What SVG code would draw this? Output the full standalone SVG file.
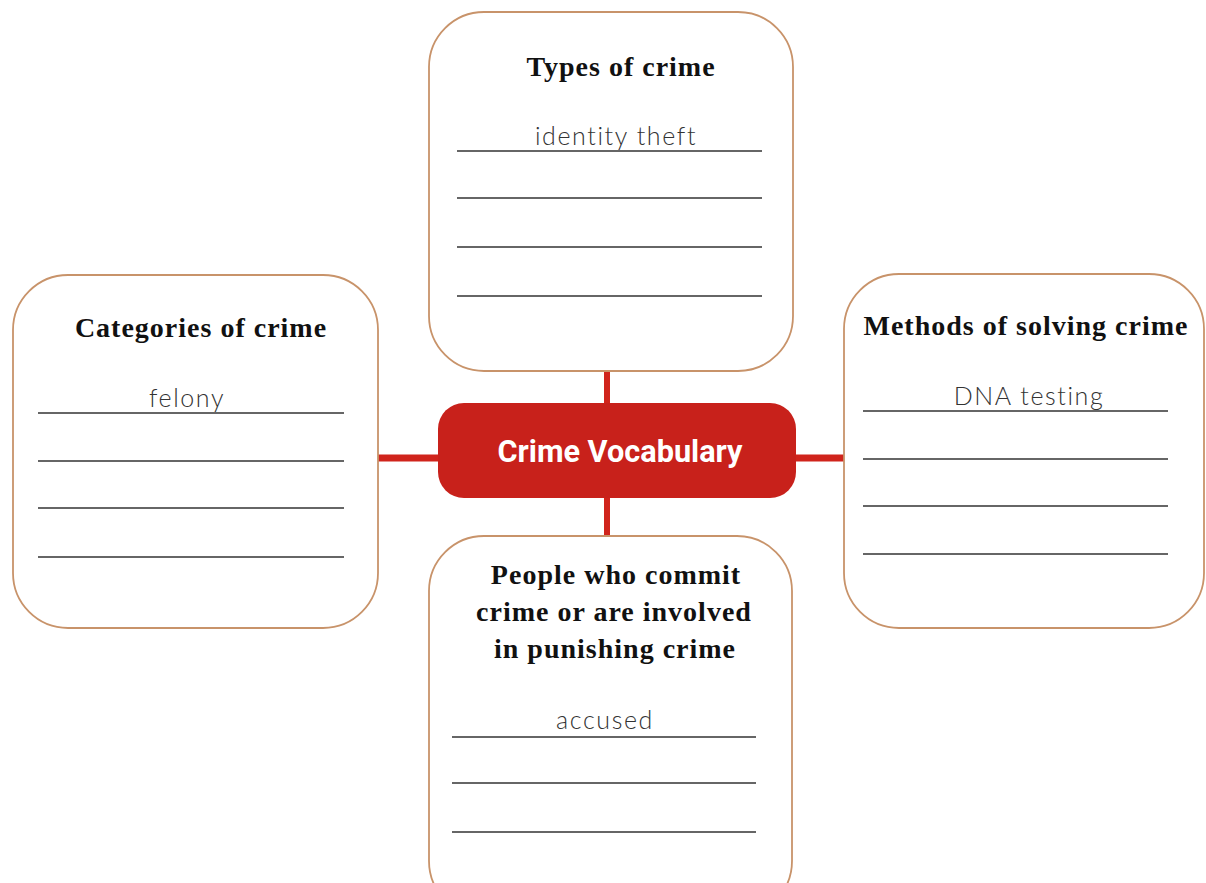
<svg xmlns="http://www.w3.org/2000/svg" width="1206" height="883" viewBox="0 0 1206 883">
<style>
.box{fill:#fff;stroke:#c8936a;stroke-width:1.8}
.rule{stroke:#333;stroke-width:1.6}
.head{font-family:"Liberation Serif",serif;font-weight:bold;font-size:28px;letter-spacing:1px;fill:#111;text-anchor:middle}
.hand{font-family:"Lato","Open Sans",sans-serif;font-weight:300;font-size:25px;letter-spacing:1.6px;fill:#333;text-anchor:middle}
.conn{stroke:#d0241c;fill:none}
</style>
<rect width="1206" height="883" fill="#fff"/>
<g id="connectors">
<line class="conn" x1="378" y1="458" x2="440" y2="458" stroke-width="7"/>
<line class="conn" x1="794" y1="458" x2="845" y2="458" stroke-width="7"/>
<line class="conn" x1="607" y1="370" x2="607" y2="405" stroke-width="6"/>
<line class="conn" x1="607" y1="496" x2="607" y2="537" stroke-width="6"/>
</g>
<g id="types">
<rect class="box" x="429" y="12" width="364" height="359" rx="55"/>
<text class="head" x="621" y="76">Types of crime</text>
<line class="rule" x1="457" y1="151" x2="762" y2="151"/>
<line class="rule" x1="457" y1="198" x2="762" y2="198"/>
<line class="rule" x1="457" y1="247" x2="762" y2="247"/>
<line class="rule" x1="457" y1="296" x2="762" y2="296"/>
<text class="hand" x="616" y="145">identity theft</text>
</g>
<g id="categories">
<rect class="box" x="13" y="275" width="365" height="353" rx="55"/>
<text class="head" x="201" y="337">Categories of crime</text>
<line class="rule" x1="38" y1="413" x2="344" y2="413"/>
<line class="rule" x1="38" y1="461" x2="344" y2="461"/>
<line class="rule" x1="38" y1="508" x2="344" y2="508"/>
<line class="rule" x1="38" y1="557" x2="344" y2="557"/>
<text class="hand" x="187" y="407">felony</text>
</g>
<g id="methods">
<rect class="box" x="844" y="274" width="360" height="354" rx="55"/>
<text class="head" x="1026" y="335">Methods of solving crime</text>
<line class="rule" x1="863" y1="411" x2="1168" y2="411"/>
<line class="rule" x1="863" y1="459" x2="1168" y2="459"/>
<line class="rule" x1="863" y1="506" x2="1168" y2="506"/>
<line class="rule" x1="863" y1="554" x2="1168" y2="554"/>
<text class="hand" x="1029" y="405">DNA testing</text>
</g>
<g id="people">
<rect class="box" x="429" y="536" width="363" height="380" rx="55"/>
<text class="head" x="616" y="584">People who commit</text>
<text class="head" x="614" y="621">crime or are involved</text>
<text class="head" x="615" y="658">in punishing crime</text>
<line class="rule" x1="452" y1="737" x2="756" y2="737"/>
<line class="rule" x1="452" y1="783" x2="756" y2="783"/>
<line class="rule" x1="452" y1="832" x2="756" y2="832"/>
<text class="hand" x="605" y="729">accused</text>
</g>
<g id="center">
<rect x="438" y="403" width="358" height="95" rx="26" fill="#c8211b"/>
<text x="620" y="462" font-family="Roboto,'Liberation Sans',sans-serif" font-weight="bold" font-size="31" fill="#fff" text-anchor="middle" textLength="245" lengthAdjust="spacingAndGlyphs">Crime Vocabulary</text>
</g>
</svg>
